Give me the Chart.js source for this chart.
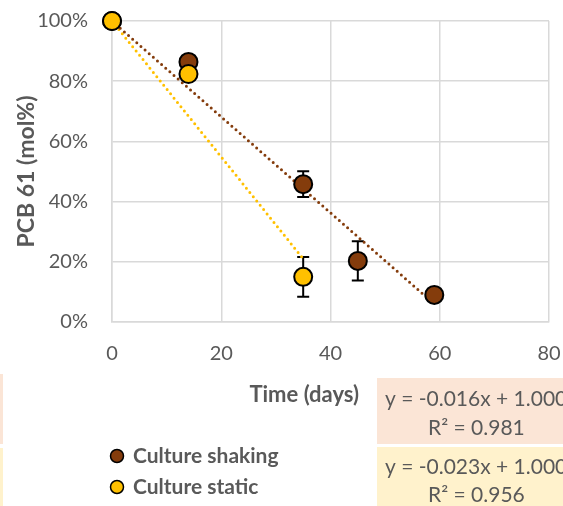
<!DOCTYPE html>
<html>
<head>
<meta charset="utf-8">
<script src="https://cdn.jsdelivr.net/npm/chart.js@4.4.1/dist/chart.umd.min.js"></script>
<style>
  html, body { margin: 0; padding: 0; background: #fff; }
  #wrap { position: relative; width: 563px; height: 506px; }
</style>
</head>
<body>
<div id="wrap"><canvas id="pcbChart" width="563" height="506"></canvas></div>
<script>
// data
const shakingDays = [0, 14, 35, 45, 59];
const shakingValues = [100, 86.4, 45.8, 20.3, 9];
const shakingErrors = [0, 0, 4.3, 6.5, 0.5];
const staticDays = [0, 14, 35];
const staticValues = [100, 82.4, 15];
const staticErrors = [0, 0, 6.6];

// trendline end points
const shakingTrendDays = [0, 59];
const shakingTrendValues = [100, 6];
const staticTrendDays = [0, 35];
const staticTrendValues = [100, 21];

const seriesNames = ['Culture shaking', 'Culture static'];
const shakingEquation = ['y = -0.016x + 1.000', 'R² = 0.981'];
const staticEquation = ['y = -0.023x + 1.000', 'R² = 0.956'];

const BROWN = '#843C0C';
const YELLOW = '#FFC000';
const TEXT = '#595959';
const GRID = '#D9D9D9';
const FONT = 'Lato, "Open Sans", sans-serif';

const toPoints = (xs, ys) => xs.map((x, i) => ({ x: x, y: ys[i] }));

// error bars, drawn through the scales (under the markers)
const errorBars = {
  id: 'errorBars',
  beforeDatasetsDraw(chart) {
    const { ctx, scales: { x, y } } = chart;
    ctx.save();
    ctx.strokeStyle = '#000';
    ctx.lineWidth = 2;
    chart.data.datasets.forEach(ds => {
      if (!ds.errors) return;
      ds.data.forEach((p, i) => {
        const e = ds.errors[i];
        if (!e) return;
        const px = x.getPixelForValue(p.x);
        const top = y.getPixelForValue(p.y + e);
        const bot = y.getPixelForValue(p.y - e);
        ctx.beginPath();
        ctx.moveTo(px, top); ctx.lineTo(px, bot);
        ctx.moveTo(px - 6, top); ctx.lineTo(px + 6, top);
        ctx.moveTo(px - 6, bot); ctx.lineTo(px + 6, bot);
        ctx.stroke();
      });
    });
    ctx.restore();
  }
};

// x title, legend and trendline labels the way Excel placed them
const extras = {
  id: 'extras',
  afterDraw(chart) {
    const ctx = chart.ctx;
    ctx.save();
    ctx.textBaseline = 'middle';

    ctx.fillStyle = '#FBE5D6';
    ctx.fillRect(0, 374, 3, 70);
    ctx.fillRect(377, 378, 186, 66);
    ctx.fillStyle = '#FFF2CC';
    ctx.fillRect(0, 448, 3, 58);
    ctx.fillRect(377, 447, 186, 59);

    ctx.fillStyle = TEXT;
    ctx.font = 'bold 22px ' + FONT;
    ctx.textAlign = 'right';
    ctx.fillText('Time (days)', 359, 395);

    ctx.font = '21px ' + FONT;
    ctx.textAlign = 'left';
    ctx.fillText(shakingEquation[0], 385, 399);
    ctx.fillText(shakingEquation[1], 428, 428);
    ctx.fillText(staticEquation[0], 385, 467);
    ctx.fillText(staticEquation[1], 428, 495);

    const legendY = [456, 487];
    const legendColors = [BROWN, YELLOW];
    ctx.font = 'bold 21px ' + FONT;
    seriesNames.forEach((name, i) => {
      ctx.beginPath();
      ctx.arc(117, legendY[i], 6.5, 0, Math.PI * 2);
      ctx.fillStyle = legendColors[i];
      ctx.fill();
      ctx.lineWidth = 1.5;
      ctx.strokeStyle = '#000';
      ctx.stroke();
      ctx.fillStyle = TEXT;
      ctx.fillText(name, 133, legendY[i]);
    });
    ctx.restore();
  }
};

const ctx = document.getElementById('pcbChart').getContext('2d');
new Chart(ctx, {
  type: 'scatter',
  data: {
    datasets: [
      {
        label: seriesNames[1],
        data: toPoints(staticDays, staticValues),
        errors: staticErrors,
        backgroundColor: YELLOW,
        borderColor: '#000',
        borderWidth: 2,
        pointRadius: 9,
        clip: false,
        order: 1
      },
      {
        label: seriesNames[0],
        data: toPoints(shakingDays, shakingValues),
        errors: shakingErrors,
        backgroundColor: BROWN,
        borderColor: '#000',
        borderWidth: 2,
        pointRadius: 9,
        clip: false,
        order: 2
      },
      {
        label: 'trend shaking',
        type: 'line',
        data: toPoints(shakingTrendDays, shakingTrendValues),
        borderColor: BROWN,
        borderWidth: 3,
        borderDash: [0, 5.5],
        borderCapStyle: 'round',
        pointRadius: 0,
        fill: false,
        order: 3
      },
      {
        label: 'trend static',
        type: 'line',
        data: toPoints(staticTrendDays, staticTrendValues),
        borderColor: YELLOW,
        borderWidth: 3,
        borderDash: [0, 5.5],
        borderCapStyle: 'round',
        pointRadius: 0,
        fill: false,
        order: 3
      }
    ]
  },
  options: {
    responsive: false,
    animation: false,
    layout: { padding: { left: 0, top: 21, right: 14, bottom: 0 } },
    plugins: {
      legend: { display: false },
      tooltip: { enabled: false }
    },
    scales: {
      x: {
        type: 'linear',
        min: 0, max: 80,
        ticks: { stepSize: 20, padding: 20, color: TEXT, font: { family: FONT, size: 20 } },
        grid: { color: GRID, lineWidth: 1.5, drawTicks: false },
        border: { color: GRID, width: 1.5 },
        afterFit: s => {
          s.height = 184;
          s.paddingLeft = 0; s.paddingRight = 0;
        }
      },
      y: {
        min: 0, max: 100,
        ticks: {
          stepSize: 20, padding: 24, color: TEXT,
          font: { family: FONT, size: 20 },
          callback: v => v + '%'
        },
        grid: { color: GRID, lineWidth: 1.5, drawTicks: false },
        border: { color: GRID, width: 1.5 },
        title: {
          display: true, text: 'PCB 61 (mol%)', color: TEXT,
          font: { family: FONT, size: 23, weight: 'bold' },
          padding: { top: 13, bottom: 0 }
        },
        afterFit: s => {
          s.width = 112;
          s.paddingTop = 0; s.paddingBottom = 0;
        }
      }
    }
  },
  plugins: [errorBars, extras]
});
</script>
</body>
</html>
